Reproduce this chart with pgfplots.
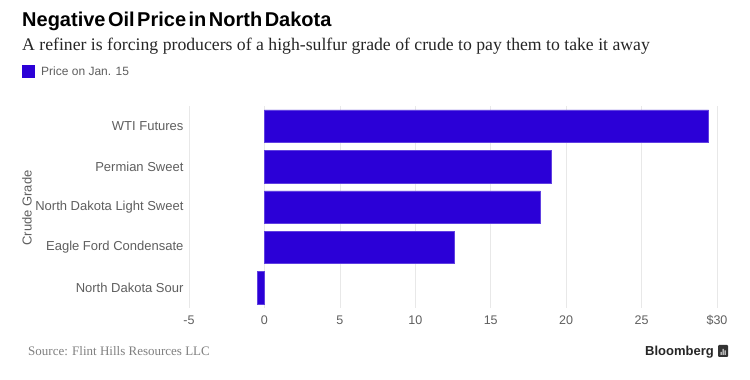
\documentclass[border=0pt]{standalone}
\usepackage{pgfplots}
\pgfplotsset{compat=1.18}
\usepackage{fontspec}
\setmainfont{Liberation Sans}
\newfontfamily\seriffont{Liberation Serif}
\newfontfamily\titlefont[WordSpace=0.45]{Liberation Sans}
\definecolor{barblue}{RGB}{43,0,215}
\definecolor{txtgray}{RGB}{95,95,95}
\begin{document}
\begin{tikzpicture}[x=1pt,y=1pt]
\path[fill=white] (0,0) rectangle (750,380);
\node[anchor=base west, inner sep=0, font=\titlefont\bfseries\fontsize{20}{24}\selectfont] at (22,353) {Negative Oil Price in North Dakota};
\node[anchor=base west, inner sep=0, font=\seriffont\fontsize{17.7}{21}\selectfont, text=black!85] at (22,329) {A refiner is forcing producers of a high-sulfur grade of crude to pay them to take it away};
\fill[barblue] (22,302) rectangle (35,315);
\node[anchor=base west, inner sep=0, font=\fontsize{12}{15}\selectfont, text=txtgray] at (41,304) {Price on Jan. 15};
\begin{axis}[
  at={(189pt,72pt)}, anchor=south west, scale only axis, width=528pt, height=202pt,
  xbar, bar width=32.5pt, bar shift=0pt,
  xmin=-5, xmax=30, ymin=-0.5, ymax=4.5, y dir=reverse,
  xtick={-5,0,5,10,15,20,25,30}, xticklabels={-5,0,5,10,15,20,25,\$30},
  ytick={0,1,2,3,4}, yticklabels={WTI Futures, Permian Sweet, North Dakota Light Sweet, Eagle Ford Condensate, North Dakota Sour},
  axis line style={draw=none}, major tick length=0pt,
  xmajorgrids, grid style={gray!18, line width=0.7pt},
  xticklabel style={font=\fontsize{12.5}{15}\selectfont, text=txtgray, yshift=-4pt},
  yticklabel style={font=\fontsize{13}{15}\selectfont, text=txtgray, xshift=-2pt},
  clip=false,
]
\addplot[fill=barblue, draw=barblue!75!white, line width=0.5pt] coordinates {(29.45,0) (19.0,1) (18.3,2) (12.55,3) (-0.45,4)};
\end{axis}
\node[rotate=90, font=\fontsize{13}{15}\selectfont, text=txtgray] at (27,172) {Crude Grade};
\node[anchor=base west, inner sep=0, font=\seriffont\fontsize{13}{15}\selectfont, text=gray] at (28,24) {Source: Flint Hills Resources LLC};
\node[anchor=base east, inner sep=0, font=\bfseries\fontsize{13}{15}\selectfont, text=black!85] at (714,24) {Bloomberg};
\fill[black!80, rounded corners=1pt] (718,23) rectangle (728,35);
\fill[white] (720.5,25) rectangle (721.5,28) (722.5,25) rectangle (723.5,31) (724.5,25) rectangle (725.5,29.5);
\end{tikzpicture}
\end{document}
